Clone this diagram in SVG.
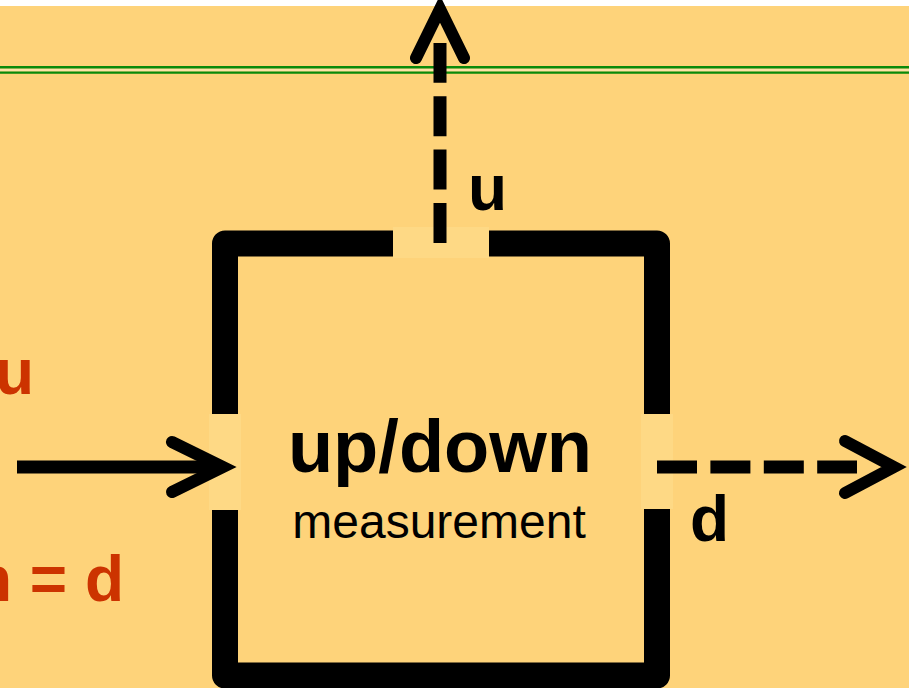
<svg xmlns="http://www.w3.org/2000/svg" width="909" height="688" viewBox="0 0 909 688">
<style>
.bg{fill:#FED37A}
.gap{fill:#FED985}
.frame{fill:none;stroke:#000;stroke-width:26;stroke-linejoin:round}
.solid{fill:none;stroke:#000;stroke-width:13}
.dash{fill:none;stroke:#000;stroke-width:13;stroke-dasharray:40 13.4}
.head{fill:none;stroke:#000;stroke-width:12;stroke-linecap:round;stroke-linejoin:miter}
.title{font-family:"Liberation Sans",Arial,sans-serif;font-weight:bold;font-size:74px;fill:#000}
.sub{font-family:"Liberation Sans",Arial,sans-serif;font-size:48px;fill:#000}
.lbl{font-family:"Liberation Sans",Arial,sans-serif;font-weight:bold;font-size:64px;fill:#000}
.eq{font-family:"Liberation Sans",Arial,sans-serif;font-weight:bold;font-size:64px;fill:#CC3300}
</style>
<rect x="0" y="0" width="909" height="688" fill="#FFFFFF"/>
<rect class="bg" x="0" y="6" width="909" height="682"/>
<g id="boundary">
<rect x="0" y="68.5" width="909" height="3" fill="#FEE3A6"/>
<line x1="0" y1="67.2" x2="909" y2="67.2" stroke="#0A8A0A" stroke-width="2.4"/>
<line x1="0" y1="72.6" x2="909" y2="72.6" stroke="#0A8A0A" stroke-width="2.4"/>
</g>
<g id="left-labels">
<text class="eq" x="34" y="394" text-anchor="end">u</text>
<text class="eq" x="124" y="601" text-anchor="end">n = d</text>
</g>
<g id="measurement">
<rect class="frame" x="225" y="243.5" width="432" height="432"/>
<rect class="gap" x="393" y="227" width="96" height="31"/>
<rect class="gap" x="209" y="414" width="32" height="96"/>
<rect class="gap" x="641" y="414" width="32" height="95"/>
<text class="title" x="440" y="472" text-anchor="middle">up/down</text>
<text class="sub" x="439" y="538" text-anchor="middle">measurement</text>
</g>
<g id="connectors">
<line class="solid" x1="17" y1="467" x2="220" y2="467"/>
<polyline class="head" points="172,442 223,467 172,492"/>
<line class="dash" x1="440" y1="243" x2="440" y2="43"/>
<polyline class="head" points="416,58 440,9 464,58"/>
<line class="dash" x1="657" y1="467" x2="857" y2="467"/>
<polyline class="head" points="845,441 894,467 845,493"/>
<text class="lbl" x="468" y="210">u</text>
<text class="lbl" x="690" y="541">d</text>
</g>
</svg>
